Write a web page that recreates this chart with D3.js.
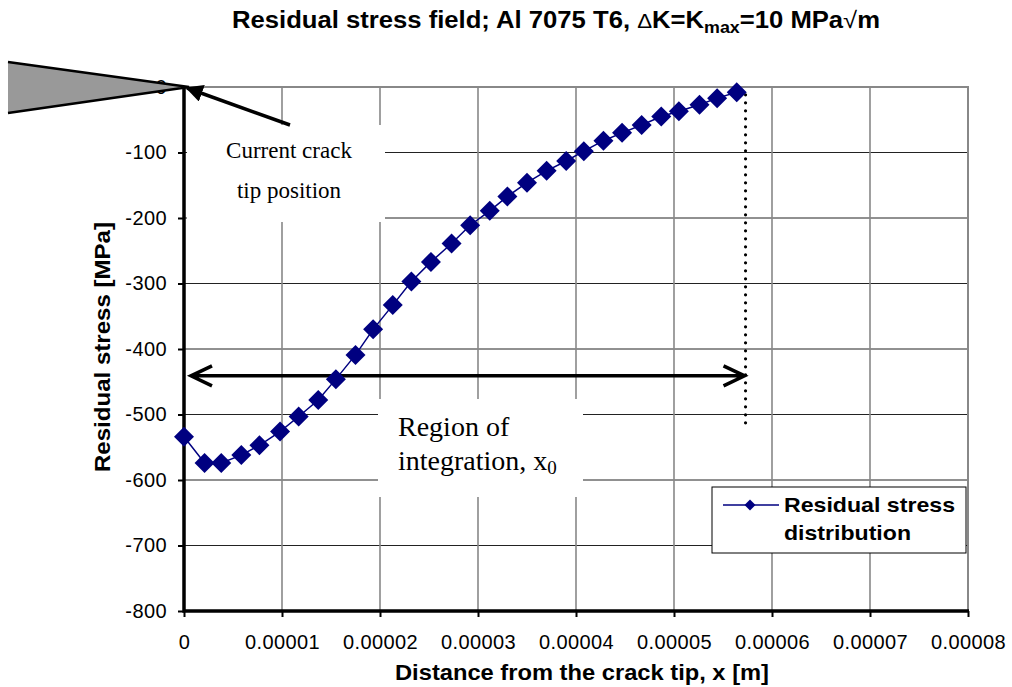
<!DOCTYPE html>
<html>
<head>
<meta charset="utf-8">
<script src="https://cdn.jsdelivr.net/npm/d3@7"></script>
<style>
  html, body { margin: 0; padding: 0; background: #fff; }
  svg { display: block; }
  .sans { font-family: Arial, "Liberation Sans", sans-serif; }
  .serif { font-family: "Times New Roman", "Liberation Serif", serif; }
</style>
</head>
<body>
<svg id="chart" width="1012" height="687"></svg>
<script>
// Distance ahead of the crack tip [m]
const distance = [
  0, 0.21e-5, 0.38e-5, 0.585e-5, 0.77e-5, 0.98e-5, 1.17e-5, 1.37e-5, 1.55e-5, 1.75e-5,
  1.93e-5, 2.13e-5, 2.32e-5, 2.52e-5, 2.73e-5, 2.92e-5, 3.12e-5, 3.30e-5, 3.50e-5, 3.70e-5,
  3.90e-5, 4.08e-5, 4.28e-5, 4.47e-5, 4.67e-5, 4.87e-5, 5.05e-5, 5.26e-5, 5.44e-5, 5.64e-5
];
// Residual stress [MPa]
const stress = [
  -534, -574, -574, -562, -547, -526, -503, -478, -446, -409,
  -370, -333, -297, -267, -239, -211, -189, -167, -146, -128,
  -113, -98, -82, -70, -58, -45, -37, -27, -17, -8
];
const xTicks = [0, 0.00001, 0.00002, 0.00003, 0.00004, 0.00005, 0.00006, 0.00007, 0.00008];
const xTickLabels = ["0", "0.00001", "0.00002", "0.00003", "0.00004", "0.00005", "0.00006", "0.00007", "0.00008"];
const yTicks = [0, -100, -200, -300, -400, -500, -600, -700, -800];
const yTickLabels = ["0", "-100", "-200", "-300", "-400", "-500", "-600", "-700", "-800"];
const x0 = 5.73e-5;           // end of the integration region

const svg = d3.select("#chart");
const x = d3.scaleLinear().domain([0, 0.00008]).range([184, 968]);
const y = d3.scaleLinear().domain([-800, 0]).range([611, 87]);
const navy = "#000080";

// Squeeze or stretch a text so that it spans the given width
function fitWidth(sel, width) {
  sel.attr("textLength", width).attr("lengthAdjust", "spacingAndGlyphs");
  return sel;
}

// Title
const title = svg.append("text").attr("class", "sans")
  .attr("x", 556).attr("y", 28).attr("text-anchor", "middle")
  .attr("font-weight", "bold").attr("font-size", 23);
title.append("tspan").text("Residual stress field; Al 7075 T6, ");
title.append("tspan").attr("font-weight", "normal").attr("font-size", 20).text("\u0394");
title.append("tspan").text("K=K");
title.append("tspan").attr("font-size", 16).attr("dy", 5).text("max");
title.append("tspan").attr("dy", -5).text("=10 MPa");
title.append("tspan").attr("font-weight", "normal").text("\u221A");
title.append("tspan").text("m");
fitWidth(title, 648);

// Gridlines
svg.append("g").selectAll("line").data(yTicks.filter(v => v !== 0 && v !== -800)).join("line")
  .attr("x1", x(0)).attr("x2", x(0.00008))
  .attr("y1", d => y(d)).attr("y2", d => y(d))
  .attr("stroke", "#222").attr("stroke-width", 1);
svg.append("g").selectAll("line").data(xTicks.filter(v => v !== 0 && v !== 0.00008)).join("line")
  .attr("x1", d => x(d)).attr("x2", d => x(d))
  .attr("y1", y(0)).attr("y2", y(-800))
  .attr("stroke", "#888").attr("stroke-width", 1.6);
// Plot border (top and right)
svg.append("path")
  .attr("d", `M${x(0)},${y(0)}H${x(0.00008)}V${y(-800)}`)
  .attr("fill", "none").attr("stroke", "#888").attr("stroke-width", 2);

// White label boxes for the annotations
svg.append("rect").attr("x", 187).attr("y", 125).attr("width", 198).attr("height", 97).attr("fill", "#fff");
svg.append("rect").attr("x", 378).attr("y", 399).attr("width", 205).attr("height", 98).attr("fill", "#fff");

// Axes
const yAxis = svg.append("g").attr("class", "sans")
  .attr("transform", `translate(${x(0)},0)`)
  .call(d3.axisLeft(y).tickValues(yTicks).tickSize(6).tickPadding(11).tickFormat((d, i) => yTickLabels[i]));
const xAxis = svg.append("g").attr("class", "sans")
  .attr("transform", `translate(0,${y(-800)})`)
  .call(d3.axisBottom(x).tickValues(xTicks).tickSize(6).tickPadding(18).tickFormat((d, i) => xTickLabels[i]));
[yAxis, xAxis].forEach(g => {
  g.select(".domain").remove();
  g.selectAll(".tick line").attr("stroke", "#000").attr("stroke-width", 2);
  g.selectAll(".tick text").attr("font-size", 20).attr("fill", "#000")
    .attr("font-family", "Arial, 'Liberation Sans', sans-serif").attr("letter-spacing", 0.4);
});
svg.append("path")
  .attr("d", `M${x(0)},${y(0)}V${y(-800)}H${x(0.00008) + 1}`)
  .attr("fill", "none").attr("stroke", "#000").attr("stroke-width", 3.5);

// Axis titles
const yTitle = svg.append("text").attr("class", "sans")
  .attr("transform", `translate(110,${y(-397)}) rotate(-90)`)
  .attr("text-anchor", "middle").attr("font-weight", "bold").attr("font-size", 22)
  .text("Residual stress [MPa]");
fitWidth(yTitle, 250);
const xTitle = svg.append("text").attr("class", "sans")
  .attr("x", 582).attr("y", 680).attr("text-anchor", "middle")
  .attr("font-weight", "bold").attr("font-size", 22)
  .text("Distance from the crack tip, x [m]");
fitWidth(xTitle, 374);

// Crack flank (wedge) ending at the crack tip
const tip = [x(0), y(0)];
svg.append("path")
  .attr("d", `M8,62L${tip[0] + 5},${tip[1]}L8,113Z`)
  .attr("fill", "#999").attr("stroke", "none");
svg.append("path")
  .attr("d", `M8,62L${tip[0] + 5},${tip[1]}L8,113`)
  .attr("fill", "none").attr("stroke", "#000").attr("stroke-width", 2.5);

// Arrow pointing at the current crack tip
svg.append("defs").append("marker")
  .attr("id", "head").attr("viewBox", "0 0 10 10").attr("refX", 9).attr("refY", 5)
  .attr("markerWidth", 5).attr("markerHeight", 5).attr("orient", "auto")
  .append("path").attr("d", "M0,0L10,5L0,10Z").attr("fill", "#000");
svg.append("line")
  .attr("x1", 290).attr("y1", 125).attr("x2", tip[0] + 3).attr("y2", tip[1] + 1)
  .attr("stroke", "#000").attr("stroke-width", 3.5).attr("marker-end", "url(#head)");

// Annotation texts
const t1 = svg.append("text").attr("class", "serif").attr("font-size", 23).attr("text-anchor", "middle");
t1.append("tspan").attr("x", 289).attr("y", 158).text("Current crack");
t1.append("tspan").attr("x", 289).attr("y", 198).text("tip position");
const t2 = svg.append("text").attr("class", "serif").attr("font-size", 28);
t2.append("tspan").attr("x", 398).attr("y", 436).text("Region of");
const l2 = t2.append("tspan").attr("x", 398).attr("y", 470);
l2.append("tspan").text("integration, x");
l2.append("tspan").attr("font-size", 19).attr("dy", 4).text("0");

// End of the integration region (dotted line)
svg.append("line")
  .attr("x1", x(x0)).attr("x2", x(x0)).attr("y1", y(-12)).attr("y2", y(-518))
  .attr("stroke", "#000").attr("stroke-width", 3.2)
  .attr("stroke-linecap", "round").attr("stroke-dasharray", "0 8");

// Double arrow for the integration region
const ay = y(-441);
const xa = x(0) + 7, xb = x(x0) - 1;
svg.append("path")
  .attr("d", `M${xa},${ay}H${xb}M${xa + 21},${ay - 10}L${xa},${ay}L${xa + 21},${ay + 10}M${xb - 21},${ay - 10}L${xb},${ay}L${xb - 21},${ay + 10}`)
  .attr("fill", "none").attr("stroke", "#000").attr("stroke-width", 3.5);

// Series
const data = distance.map((d, i) => [d, stress[i]]);
svg.append("path").datum(data)
  .attr("d", d3.line().x(d => x(d[0])).y(d => y(d[1])))
  .attr("fill", "none").attr("stroke", navy).attr("stroke-width", 1.5);
const diamond = d3.symbol().type(d3.symbolSquare).size(200);
svg.append("g").selectAll("path").data(data).join("path")
  .attr("d", diamond)
  .attr("transform", d => `translate(${x(d[0])},${y(d[1])}) rotate(45)`)
  .attr("fill", navy);

// Legend
const lg = svg.append("g");
lg.append("rect").attr("x", 712).attr("y", 487).attr("width", 254).attr("height", 66)
  .attr("fill", "#fff").attr("stroke", "#000").attr("stroke-width", 1);
lg.append("line").attr("x1", 723).attr("x2", 779).attr("y1", 505).attr("y2", 505)
  .attr("stroke", navy).attr("stroke-width", 1.5);
lg.append("path").attr("d", d3.symbol().type(d3.symbolSquare).size(60))
  .attr("transform", "translate(750,505) rotate(45)").attr("fill", navy);
const lt1 = lg.append("text").attr("class", "sans").attr("font-weight", "bold")
  .attr("font-size", 21).attr("x", 784).attr("y", 512).text("Residual stress");
fitWidth(lt1, 171);
const lt2 = lg.append("text").attr("class", "sans").attr("font-weight", "bold")
  .attr("font-size", 21).attr("x", 784).attr("y", 540).text("distribution");
fitWidth(lt2, 127);
</script>
</body>
</html>
